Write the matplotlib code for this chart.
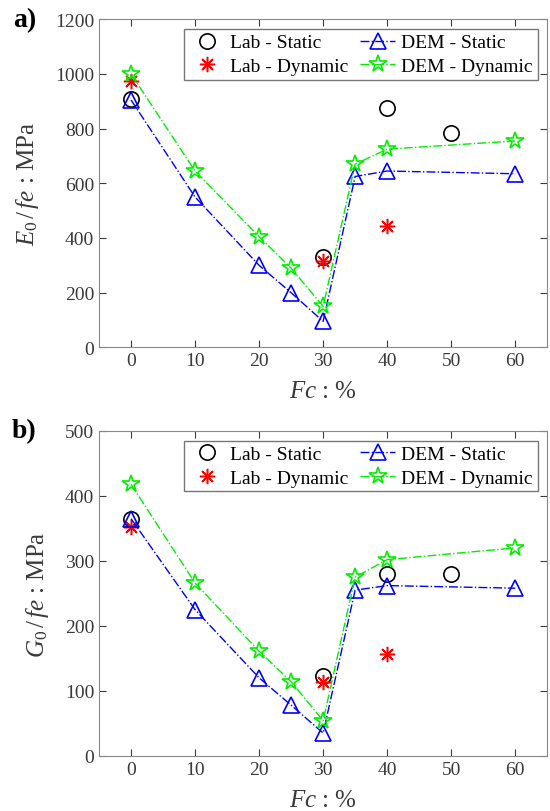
import matplotlib
matplotlib.use("Agg")
import matplotlib.pyplot as plt

# Fines content (%)
fc_lab_s = [0, 30, 40, 50]
fc_lab_d = [0, 30, 40]
fc_dem = [0, 10, 20, 25, 30, 35, 40, 60]

# Panel a) E0/fe (MPa)
e_lab_static = [910, 330, 875, 785]
e_lab_dynamic = [975, 315, 445]
e_dem_static = [905, 550, 300, 200, 95, 625, 645, 635]
e_dem_dynamic = [1000, 645, 405, 290, 150, 670, 725, 755]

# Panel b) G0/fe (MPa)
g_lab_static = [365, 123, 280, 280]
g_lab_dynamic = [352, 113, 157]
g_dem_static = [365, 225, 120, 78, 35, 255, 262, 258]
g_dem_dynamic = [418, 266, 161, 114, 54, 275, 302, 320]

xticks = [0, 10, 20, 30, 40, 50, 60]

plt.rcParams["font.family"] = "Liberation Serif"
plt.rcParams["mathtext.fontset"] = "custom"
plt.rcParams["mathtext.rm"] = "Liberation Serif"
plt.rcParams["mathtext.it"] = "Liberation Serif:italic"

GRAY = "#3a3a3a"
ASTER = (8, 2, 0)


def draw(ax, lab_s, lab_d, dem_s, dem_d, ylim, yticks, ylabel, letter):
    ax.plot(fc_lab_s, lab_s, "o", mfc="none", mec="black", ms=11, mew=1.2,
            ls="none", label="Lab - Static")
    ax.plot(fc_lab_d, lab_d, marker=ASTER, color="red", ms=11, mew=1.1,
            ls="none", label="Lab - Dynamic")
    ax.plot(fc_dem, dem_s, "-.", marker="^", color="blue", mfc="none", ms=11,
            mew=1.2, lw=1.0, label="DEM - Static")
    ax.plot(fc_dem, dem_d, "-.", marker="*", color="#00ee00", mfc="none", ms=13,
            mew=1.2, lw=1.0, label="DEM - Dynamic")
    ax.set_xlim(-5, 65)
    ax.set_ylim(*ylim)
    ax.set_xticks(xticks)
    ax.set_yticks(yticks)
    ax.tick_params(direction="in", top=True, right=True, labelsize=14,
                   colors=GRAY, length=5)
    for s in ax.spines.values():
        s.set_color("#888888")
    ax.set_xlabel(r"$Fc$ : %", fontsize=18, color=GRAY, labelpad=8)
    ax.set_ylabel(ylabel, fontsize=18, color=GRAY, labelpad=10)
    leg = ax.legend(loc="upper right", ncol=2, fontsize=14, frameon=True,
                    fancybox=False, edgecolor="#555555", borderpad=0.25,
                    handlelength=1.8, handletextpad=0.3, columnspacing=0.6,
                    labelspacing=0.3, borderaxespad=0.5)
    leg.get_frame().set_linewidth(1.0)
    ax.text(-0.14, 1.0, letter, transform=ax.transAxes, fontsize=20,
            fontweight="bold", va="center", ha="right")


def main() -> None:
    fig = plt.figure(figsize=(5.5, 8.12), dpi=100)
    ax1 = fig.add_axes([0.18, 0.571, 0.815, 0.404])
    ax2 = fig.add_axes([0.18, 0.068, 0.815, 0.400])
    draw(ax1, e_lab_static, e_lab_dynamic, e_dem_static, e_dem_dynamic,
         (0, 1200), [0, 200, 400, 600, 800, 1000, 1200],
         r"$E_0\,/\,fe$ : MPa", "a)")
    draw(ax2, g_lab_static, g_lab_dynamic, g_dem_static, g_dem_dynamic,
         (0, 500), [0, 100, 200, 300, 400, 500],
         r"$G_0\,/\,fe$ : MPa", "b)")
    fig.savefig("out.png", dpi=100)
    plt.close(fig)


if __name__ == "__main__":
    main()
